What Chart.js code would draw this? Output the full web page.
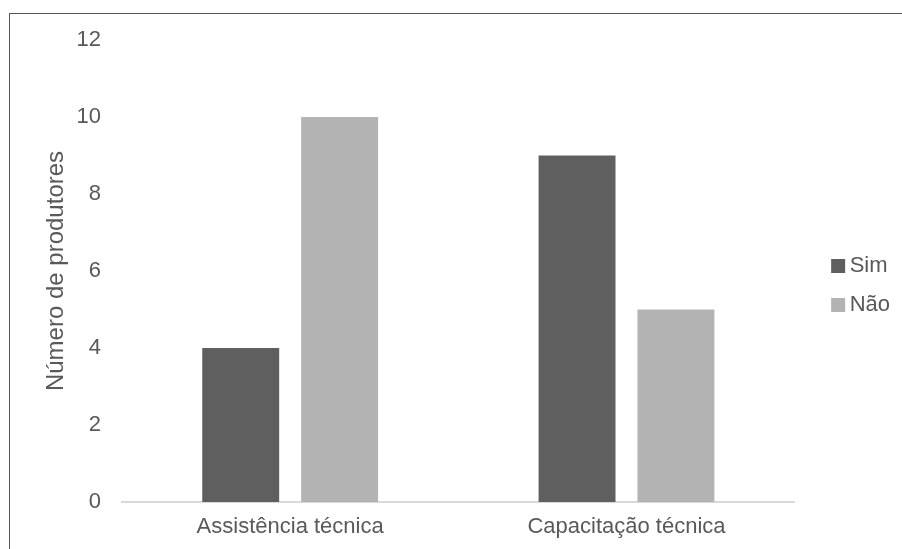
<!DOCTYPE html>
<html lang="pt">
<head>
    <meta charset="UTF-8">
    <title>Número de produtores</title>
    <style>
        body { margin: 0; background: #fff; }
        #wrap { position: relative; width: 902px; height: 549px; overflow: hidden; }
        #frame { position: absolute; left: 9px; top: 13px; width: 1000px; height: 600px; border: 1px solid #555; pointer-events: none; }
    </style>
</head>
<body>
    <div id="wrap">
        <canvas id="chart" width="902" height="549"></canvas>
        <div id="frame"></div>
    </div>

    <script src="https://cdn.jsdelivr.net/npm/chart.js"></script>
    <script>
        // categorias e séries
        const categorias = ['Assistência técnica', 'Capacitação técnica'];
        const sim = [4, 9];
        const nao = [10, 5];
        const yTicks = [0, 2, 4, 6, 8, 10, 12];

        const textColor = '#595959';
        const fontFamily = '"Liberation Sans", Arial, sans-serif';

        const ctx = document.getElementById('chart').getContext('2d');

        const myChart = new Chart(ctx, {
            type: 'bar',
            data: {
                labels: categorias,
                datasets: [{
                    label: 'Sim',
                    data: sim,
                    backgroundColor: '#5f5f5f'
                }, {
                    label: 'Não',
                    data: nao,
                    backgroundColor: '#b3b3b3'
                }]
            },
            options: {
                responsive: false,
                animation: false,
                categoryPercentage: 0.588,
                barPercentage: 0.778,
                layout: {
                    padding: { top: 40, left: 42, right: 2, bottom: 0 }
                },
                plugins: {
                    tooltip: { enabled: false },
                    legend: {
                        position: 'right',
                        fullSize: false,
                        // título vazio só para baixar um pouco os itens
                        title: {
                            display: true,
                            text: ' ',
                            font: { size: 10 },
                            padding: { top: 17, bottom: 0 }
                        },
                        labels: {
                            color: textColor,
                            font: { family: fontFamily, size: 22 },
                            usePointStyle: true,
                            pointStyle: 'rect',
                            boxWidth: 1,
                            boxHeight: 14,
                            padding: 17
                        }
                    }
                },
                scales: {
                    x: {
                        grid: { display: false, drawTicks: false },
                        border: { color: '#d9d9d9', width: 2 },
                        ticks: {
                            color: textColor,
                            font: { family: fontFamily, size: 22 },
                            padding: 12
                        },
                        afterFit: axis => { axis.height = 47; }
                    },
                    y: {
                        min: yTicks[0],
                        max: yTicks[yTicks.length - 1],
                        afterBuildTicks: axis => {
                            axis.ticks = yTicks.map(v => ({ value: v }));
                        },
                        afterFit: axis => { axis.width = 80; },
                        grid: { display: false, drawTicks: false },
                        border: { display: false },
                        ticks: {
                            color: textColor,
                            font: { family: fontFamily, size: 22 },
                            padding: 21
                        },
                        title: {
                            display: true,
                            text: 'Número de produtores',
                            color: textColor,
                            font: { family: fontFamily, size: 24 },
                            padding: { top: 0, bottom: 4 }
                        }
                    },
                    // eixo vazio só para abrir espaço entre o gráfico e a legenda
                    y2: {
                        position: 'right',
                        display: true,
                        grid: { display: false, drawTicks: false },
                        border: { display: false },
                        ticks: { display: false },
                        afterFit: axis => { axis.width = 26; }
                    }
                }
            }
        });
    </script>
</body>
</html>
